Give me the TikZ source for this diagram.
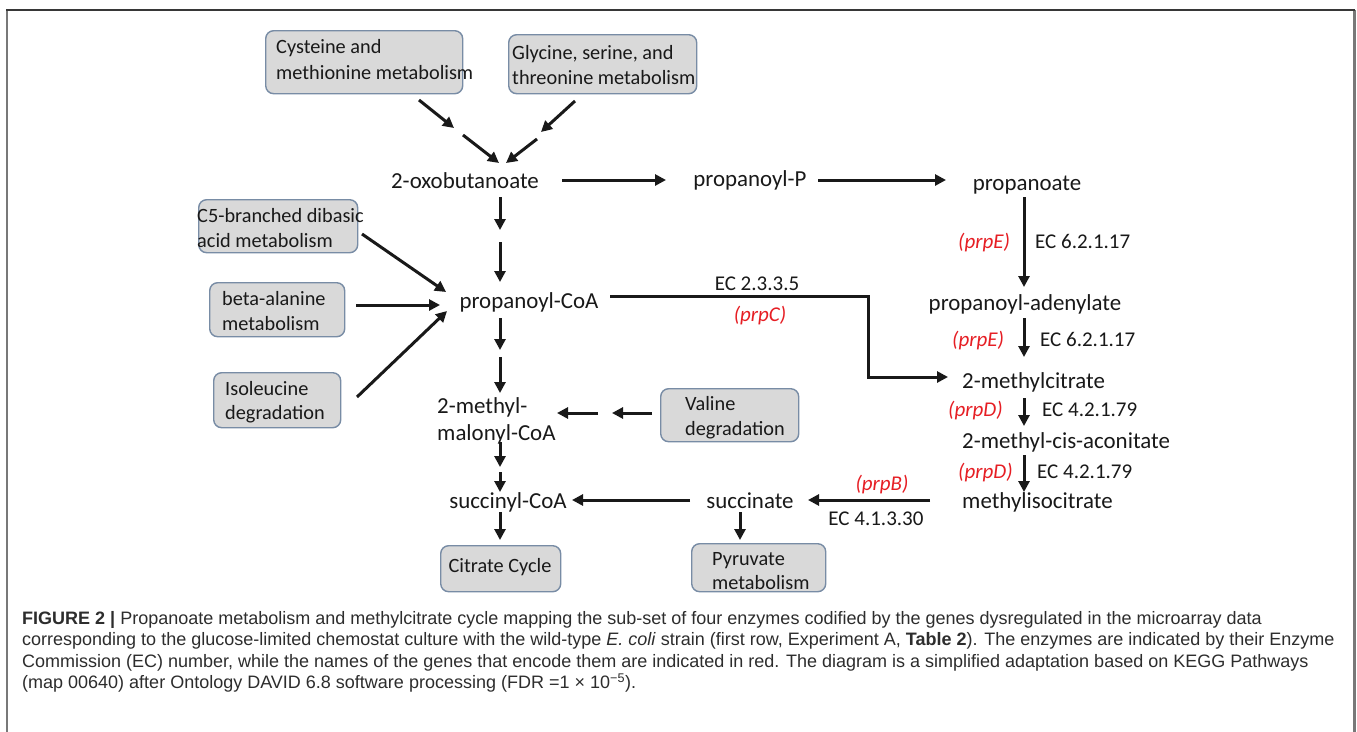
\documentclass[tikz,border=0pt]{standalone}
\usepackage{fontspec}
\setmainfont{Carlito}
\newfontfamily\capfont{Liberation Sans}
\usetikzlibrary{arrows.meta}
\definecolor{boxfill}{RGB}{217,217,217}
\definecolor{boxline}{RGB}{120,140,165}
\definecolor{genred}{RGB}{230,30,36}
\definecolor{txt}{RGB}{25,25,25}
\definecolor{captxt}{RGB}{45,45,45}
\definecolor{framecol}{RGB}{120,120,120}
\definecolor{frametop}{RGB}{55,55,55}
\newcommand\mfont{\fontsize{22.9}{27}\selectfont}
\newcommand\bxfont{\fontsize{20.3}{25}\selectfont}
\newcommand\ecfont{\fontsize{21}{25}\selectfont}
\newcommand\capsize{\capfont\fontsize{18}{21.5}\selectfont}
\begin{document}
\begin{tikzpicture}[x=1pt,y=-1pt,
  arr/.style={line width=3pt,-{Triangle[length=11pt,width=11pt]},draw=txt},
  elbow/.style={line width=3pt,-{Triangle[length=11pt,width=11pt]},draw=txt},
  metab/.style={inner sep=0pt,anchor=base,font=\mfont,text=txt},
  pbox/.style={draw=boxline,fill=boxfill,line width=1.4pt,rounded corners=8pt,inner sep=0pt,anchor=north west},
  boxtxt/.style={inner sep=0pt,anchor=base west,font=\bxfont,text=txt},
  ec/.style={inner sep=0pt,anchor=base west,font=\ecfont,text=txt},
  gene/.style={inner sep=0pt,anchor=base west,font=\ecfont\itshape,text=genred},
  captext/.style={inner sep=0pt,anchor=base west,font=\capsize,text=captxt}]
\useasboundingbox (0,0) rectangle (1357,731);
\fill[white] (0,0) rectangle (1357,731);
% frame
\draw[framecol,line width=2.5pt] (7,735) -- (7,10);
\draw[framecol,line width=3pt] (1354,10) -- (1354,735);
\draw[frametop,line width=2pt] (6,10) -- (1355,10);

% pathway boxes
\node[pbox,minimum width=197pt,minimum height=63pt] (cys) at (265,30) {};
\node[pbox,minimum width=188pt,minimum height=59pt] (gly) at (508,34) {};
\node[pbox,minimum width=159pt,minimum height=53pt] (c5) at (198,199) {};
\node[pbox,minimum width=135pt,minimum height=54pt] (beta) at (209,282) {};
\node[pbox,minimum width=127pt,minimum height=55pt] (ile) at (213,372) {};
\node[pbox,minimum width=138pt,minimum height=53pt] (val) at (660,388) {};
\node[pbox,minimum width=120pt,minimum height=46pt] (cit) at (440,545) {};
\node[pbox,minimum width=134pt,minimum height=48pt] (pyr) at (691,543) {};

\node[boxtxt] (cysA) at (276,53) {Cysteine and};
\node[boxtxt] (cysB) at (276,79) {methionine metabolism};
\node[boxtxt] (glyA) at (512,59) {Glycine, serine, and};
\node[boxtxt] (glyB) at (512,84) {threonine metabolism};
\node[boxtxt] (c5A) at (197,222) {C5-branched dibasic};
\node[boxtxt] (c5B) at (197,247) {acid metabolism};
\node[boxtxt] (betaA) at (222,305) {beta-alanine};
\node[boxtxt] (betaB) at (222,330) {metabolism};
\node[boxtxt] (ileA) at (225,395) {Isoleucine};
\node[boxtxt] (ileB) at (225,419) {degradation};
\node[boxtxt] (valA) at (685,410) {Valine};
\node[boxtxt] (valB) at (685,435) {degradation};
\node[boxtxt,anchor=base] (citT) at (500,572) {Citrate Cycle};
\node[boxtxt] (pyrA) at (712,565) {Pyruvate};
\node[boxtxt] (pyrB) at (712,589) {metabolism};

% metabolites
\node[metab] (oxo) at (465,188) {2-oxobutanoate};
\node[metab] (propP) at (750,186) {propanoyl-P};
\node[metab] (propa) at (1027,190) {propanoate};
\node[metab] (aden) at (1025,310) {propanoyl-adenylate};
\node[metab,anchor=base west] (mcit) at (962,388) {2-methylcitrate};
\node[metab,anchor=base west] (acon) at (962,448) {2-methyl-cis-aconitate};
\node[metab,anchor=base west] (micit) at (962,508) {methylisocitrate};
\node[metab] (succ) at (750,508) {succinate};
\node[metab] (scoa) at (508,508) {succinyl-CoA};
\node[metab] (pcoa) at (529,308) {propanoyl-CoA};
\node[metab,anchor=base west] (mmA) at (437,413) {2-methyl-};
\node[metab,anchor=base west] (mmB) at (437,440) {malonyl-CoA};

% enzyme labels
\node[gene] (g1) at (958,248) {(prpE)};
\node[ec] (e1) at (1035,248) {EC 6.2.1.17};
\node[gene] (g2) at (952,346) {(prpE)};
\node[ec] (e2) at (1040,346) {EC 6.2.1.17};
\node[ec,anchor=base] (e3) at (757,290) {EC 2.3.3.5};
\node[gene,anchor=base] (g3) at (760,321) {(prpC)};
\node[gene] (g4) at (948,416) {(prpD)};
\node[ec] (e4) at (1042,416) {EC 4.2.1.79};
\node[gene] (g5) at (958,478) {(prpD)};
\node[ec] (e5) at (1037,478) {EC 4.2.1.79};
\node[gene,anchor=base] (g6) at (882,490) {(prpB)};
\node[ec,anchor=base] (e6) at (876,525) {EC 4.1.3.30};

% arrow end points
\coordinate (cys1) at (419,100); \coordinate (cys2) at (454,128);
\coordinate (cys3) at (463,135); \coordinate (oxoA) at (499,163);
\coordinate (gly1) at (575,101); \coordinate (gly2) at (541,132);
\coordinate (gly3) at (537,139); \coordinate (oxoB) at (506,163);
\coordinate (oxoE) at (562,180); \coordinate (propPW) at (666,180);
\coordinate (propPE) at (818,180); \coordinate (propaW) at (946,180);
\coordinate (propaS) at (1024,197); \coordinate (adenN) at (1024,287);
\coordinate (adenS) at (1024,318); \coordinate (mcitN) at (1024,357);
\coordinate (mcitS) at (1024,398); \coordinate (aconN) at (1024,426);
\coordinate (aconS) at (1024,455); \coordinate (micitN) at (1024,492);
\coordinate (pcoaE) at (610,296); \coordinate (bend) at (868,377); \coordinate (mcitW) at (948,377);
\coordinate (micitW) at (930,500); \coordinate (succE) at (808,500);
\coordinate (succW) at (690,500); \coordinate (scoaE) at (572,500);
\coordinate (succS) at (740,512); \coordinate (pyrN) at (740,540);
\coordinate (scoaS) at (500,512); \coordinate (citN) at (500,540);
\coordinate (oxoS) at (500,197); \coordinate (v1) at (500,230);
\coordinate (v2) at (500,242); \coordinate (pcoaN) at (500,282);
\coordinate (pcoaS) at (500,318); \coordinate (v3) at (500,350);
\coordinate (v4) at (500,357); \coordinate (mmN) at (500,393);
\coordinate (mmS) at (500,442); \coordinate (v5) at (500,467);
\coordinate (v6) at (500,472); \coordinate (scoaN) at (500,492);
\coordinate (valW) at (652,413); \coordinate (h1) at (612,413);
\coordinate (h2) at (598,413); \coordinate (mmE) at (557,413);
\coordinate (c5E) at (362,234); \coordinate (pcoaW1) at (446,292);
\coordinate (betaE) at (356,305); \coordinate (pcoaW2) at (440,305);
\coordinate (ileE) at (357,397); \coordinate (pcoaW3) at (447,311);

% arrows
\draw[arr] (cys1) -- (cys2);
\draw[arr] (cys3) -- (oxoA);
\draw[arr] (gly1) -- (gly2);
\draw[arr] (gly3) -- (oxoB);
\draw[arr] (oxoE) -- (propPW);
\draw[arr] (propPE) -- (propaW);
\draw[arr] (propaS) -- (adenN);
\draw[arr] (adenS) -- (mcitN);
\draw[arr] (mcitS) -- (aconN);
\draw[arr] (aconS) -- (micitN);
\draw[elbow] (pcoaE) -| (bend) -- (mcitW);
\draw[arr] (micitW) -- (succE);
\draw[arr] (succW) -- (scoaE);
\draw[arr] (succS) -- (pyrN);
\draw[arr] (scoaS) -- (citN);
\draw[arr] (oxoS) -- (v1);
\draw[arr] (v2) -- (pcoaN);
\draw[arr] (pcoaS) -- (v3);
\draw[arr] (v4) -- (mmN);
\draw[arr] (mmS) -- (v5);
\draw[arr] (v6) -- (scoaN);
\draw[arr] (valW) -- (h1);
\draw[arr] (h2) -- (mmE);
\draw[arr] (c5E) -- (pcoaW1);
\draw[arr] (betaE) -- (pcoaW2);
\draw[arr] (ileE) -- (pcoaW3);

% caption
\node[captext] (cap1) at (22,624) {\textbf{FIGURE 2 |} Propanoate metabolism and methylcitrate cycle mapping the sub-set of four enzymes codified by the genes dysregulated in the microarray data};
\node[captext] (cap2) at (22,645.5) {corresponding to the glucose-limited chemostat culture with the wild-type \textit{E. coli} strain (first row, Experiment A, \textbf{Table 2}). The enzymes are indicated by their Enzyme};
\node[captext] (cap3) at (22,667) {Commission (EC) number, while the names of the genes that encode them are indicated in red. The diagram is a simplified adaptation based on KEGG Pathways};
\node[captext] (cap4) at (22,688.5) {(map 00640) after Ontology DAVID 6.8 software processing (FDR =1 × 10\textsuperscript{−5}).};
\end{tikzpicture}
\end{document}
